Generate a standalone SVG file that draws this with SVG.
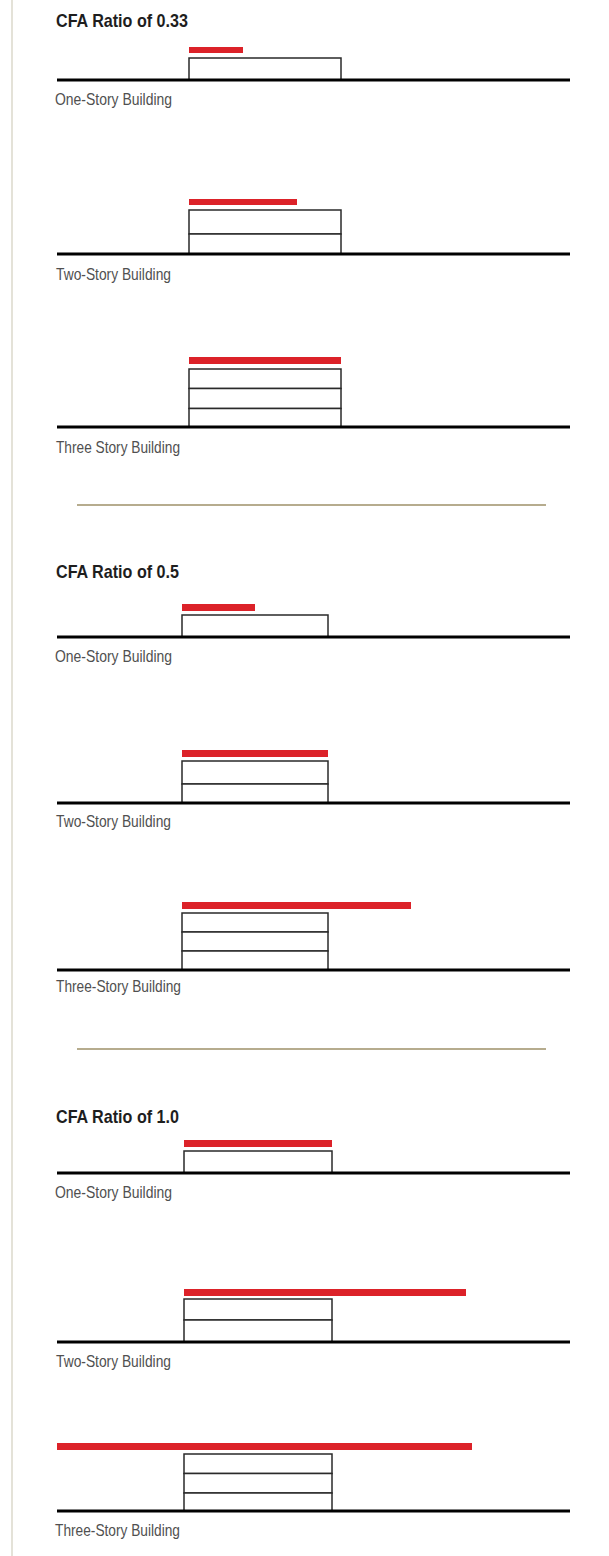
<svg xmlns="http://www.w3.org/2000/svg" width="609" height="1556" viewBox="0 0 609 1556">
<style>
.bg{fill:#ffffff}
.border{stroke:#e4e2d8;stroke-width:2}
.title{font-family:"Liberation Sans",Arial,sans-serif;font-weight:bold;font-size:19px;fill:#1e1e1e}
.label{font-family:"Liberation Sans",Arial,sans-serif;font-size:16.5px;fill:#505050}
.ground{stroke:#000;stroke-width:3}
.floor{fill:#fff;stroke:#2a2a2a;stroke-width:1.5}
.red{fill:#dc2229}
.divider{stroke:#b6ac8e;stroke-width:2}
</style>
<rect class="bg" x="0" y="0" width="609" height="1556"/>
<line class="border" x1="12" y1="0" x2="12" y2="1556"/>

<g id="section-033">
  <text class="title" x="56" y="27" textLength="132" lengthAdjust="spacingAndGlyphs">CFA Ratio of 0.33</text>
  <g id="s1-one">
    <rect class="red" x="189" y="47" width="54" height="6"/>
    <rect class="floor" x="189" y="58" width="152" height="22"/>
    <line class="ground" x1="57" y1="80" x2="570" y2="80"/>
    <text class="label" x="55" y="105" textLength="117" lengthAdjust="spacingAndGlyphs">One-Story Building</text>
  </g>
  <g id="s1-two">
    <rect class="red" x="189" y="199" width="108" height="6"/>
    <rect class="floor" x="189" y="210" width="152" height="24"/>
    <rect class="floor" x="189" y="234" width="152" height="20"/>
    <line class="ground" x1="57" y1="254" x2="570" y2="254"/>
    <text class="label" x="56" y="280" textLength="115" lengthAdjust="spacingAndGlyphs">Two-Story Building</text>
  </g>
  <g id="s1-three">
    <rect class="red" x="189" y="357" width="152" height="7"/>
    <rect class="floor" x="189" y="369" width="152" height="19.5"/>
    <rect class="floor" x="189" y="388.5" width="152" height="20"/>
    <rect class="floor" x="189" y="408.5" width="152" height="18.5"/>
    <line class="ground" x1="57" y1="427" x2="570" y2="427"/>
    <text class="label" x="56" y="453" textLength="124" lengthAdjust="spacingAndGlyphs">Three Story Building</text>
  </g>
</g>

<line class="divider" x1="77" y1="505" x2="546" y2="505"/>

<g id="section-05">
  <text class="title" x="56" y="578" textLength="123" lengthAdjust="spacingAndGlyphs">CFA Ratio of 0.5</text>
  <g id="s2-one">
    <rect class="red" x="182" y="604" width="73" height="7"/>
    <rect class="floor" x="182" y="615" width="146" height="22"/>
    <line class="ground" x1="57" y1="637" x2="570" y2="637"/>
    <text class="label" x="55" y="662" textLength="117" lengthAdjust="spacingAndGlyphs">One-Story Building</text>
  </g>
  <g id="s2-two">
    <rect class="red" x="182" y="750" width="146" height="7"/>
    <rect class="floor" x="182" y="761" width="146" height="23"/>
    <rect class="floor" x="182" y="784" width="146" height="19"/>
    <line class="ground" x1="57" y1="803" x2="570" y2="803"/>
    <text class="label" x="56" y="827" textLength="115" lengthAdjust="spacingAndGlyphs">Two-Story Building</text>
  </g>
  <g id="s2-three">
    <rect class="red" x="182" y="902" width="229" height="7"/>
    <rect class="floor" x="182" y="913" width="146" height="19"/>
    <rect class="floor" x="182" y="932" width="146" height="19"/>
    <rect class="floor" x="182" y="951" width="146" height="19"/>
    <line class="ground" x1="57" y1="970" x2="570" y2="970"/>
    <text class="label" x="56" y="992" textLength="125" lengthAdjust="spacingAndGlyphs">Three-Story Building</text>
  </g>
</g>

<line class="divider" x1="77" y1="1049" x2="546" y2="1049"/>

<g id="section-10">
  <text class="title" x="56" y="1123" textLength="123" lengthAdjust="spacingAndGlyphs">CFA Ratio of 1.0</text>
  <g id="s3-one">
    <rect class="red" x="184" y="1140" width="148" height="7"/>
    <rect class="floor" x="184" y="1151" width="148" height="22"/>
    <line class="ground" x1="57" y1="1173" x2="570" y2="1173"/>
    <text class="label" x="55" y="1198" textLength="117" lengthAdjust="spacingAndGlyphs">One-Story Building</text>
  </g>
  <g id="s3-two">
    <rect class="red" x="184" y="1289" width="282" height="7"/>
    <rect class="floor" x="184" y="1299" width="148" height="21"/>
    <rect class="floor" x="184" y="1320" width="148" height="22"/>
    <line class="ground" x1="57" y1="1342" x2="570" y2="1342"/>
    <text class="label" x="56" y="1367" textLength="115" lengthAdjust="spacingAndGlyphs">Two-Story Building</text>
  </g>
  <g id="s3-three">
    <rect class="red" x="57" y="1443" width="415" height="7"/>
    <rect class="floor" x="184" y="1454" width="148" height="19.5"/>
    <rect class="floor" x="184" y="1473.5" width="148" height="19.5"/>
    <rect class="floor" x="184" y="1493" width="148" height="18"/>
    <line class="ground" x1="57" y1="1511" x2="570" y2="1511"/>
    <text class="label" x="55" y="1536" textLength="125" lengthAdjust="spacingAndGlyphs">Three-Story Building</text>
  </g>
</g>
</svg>
